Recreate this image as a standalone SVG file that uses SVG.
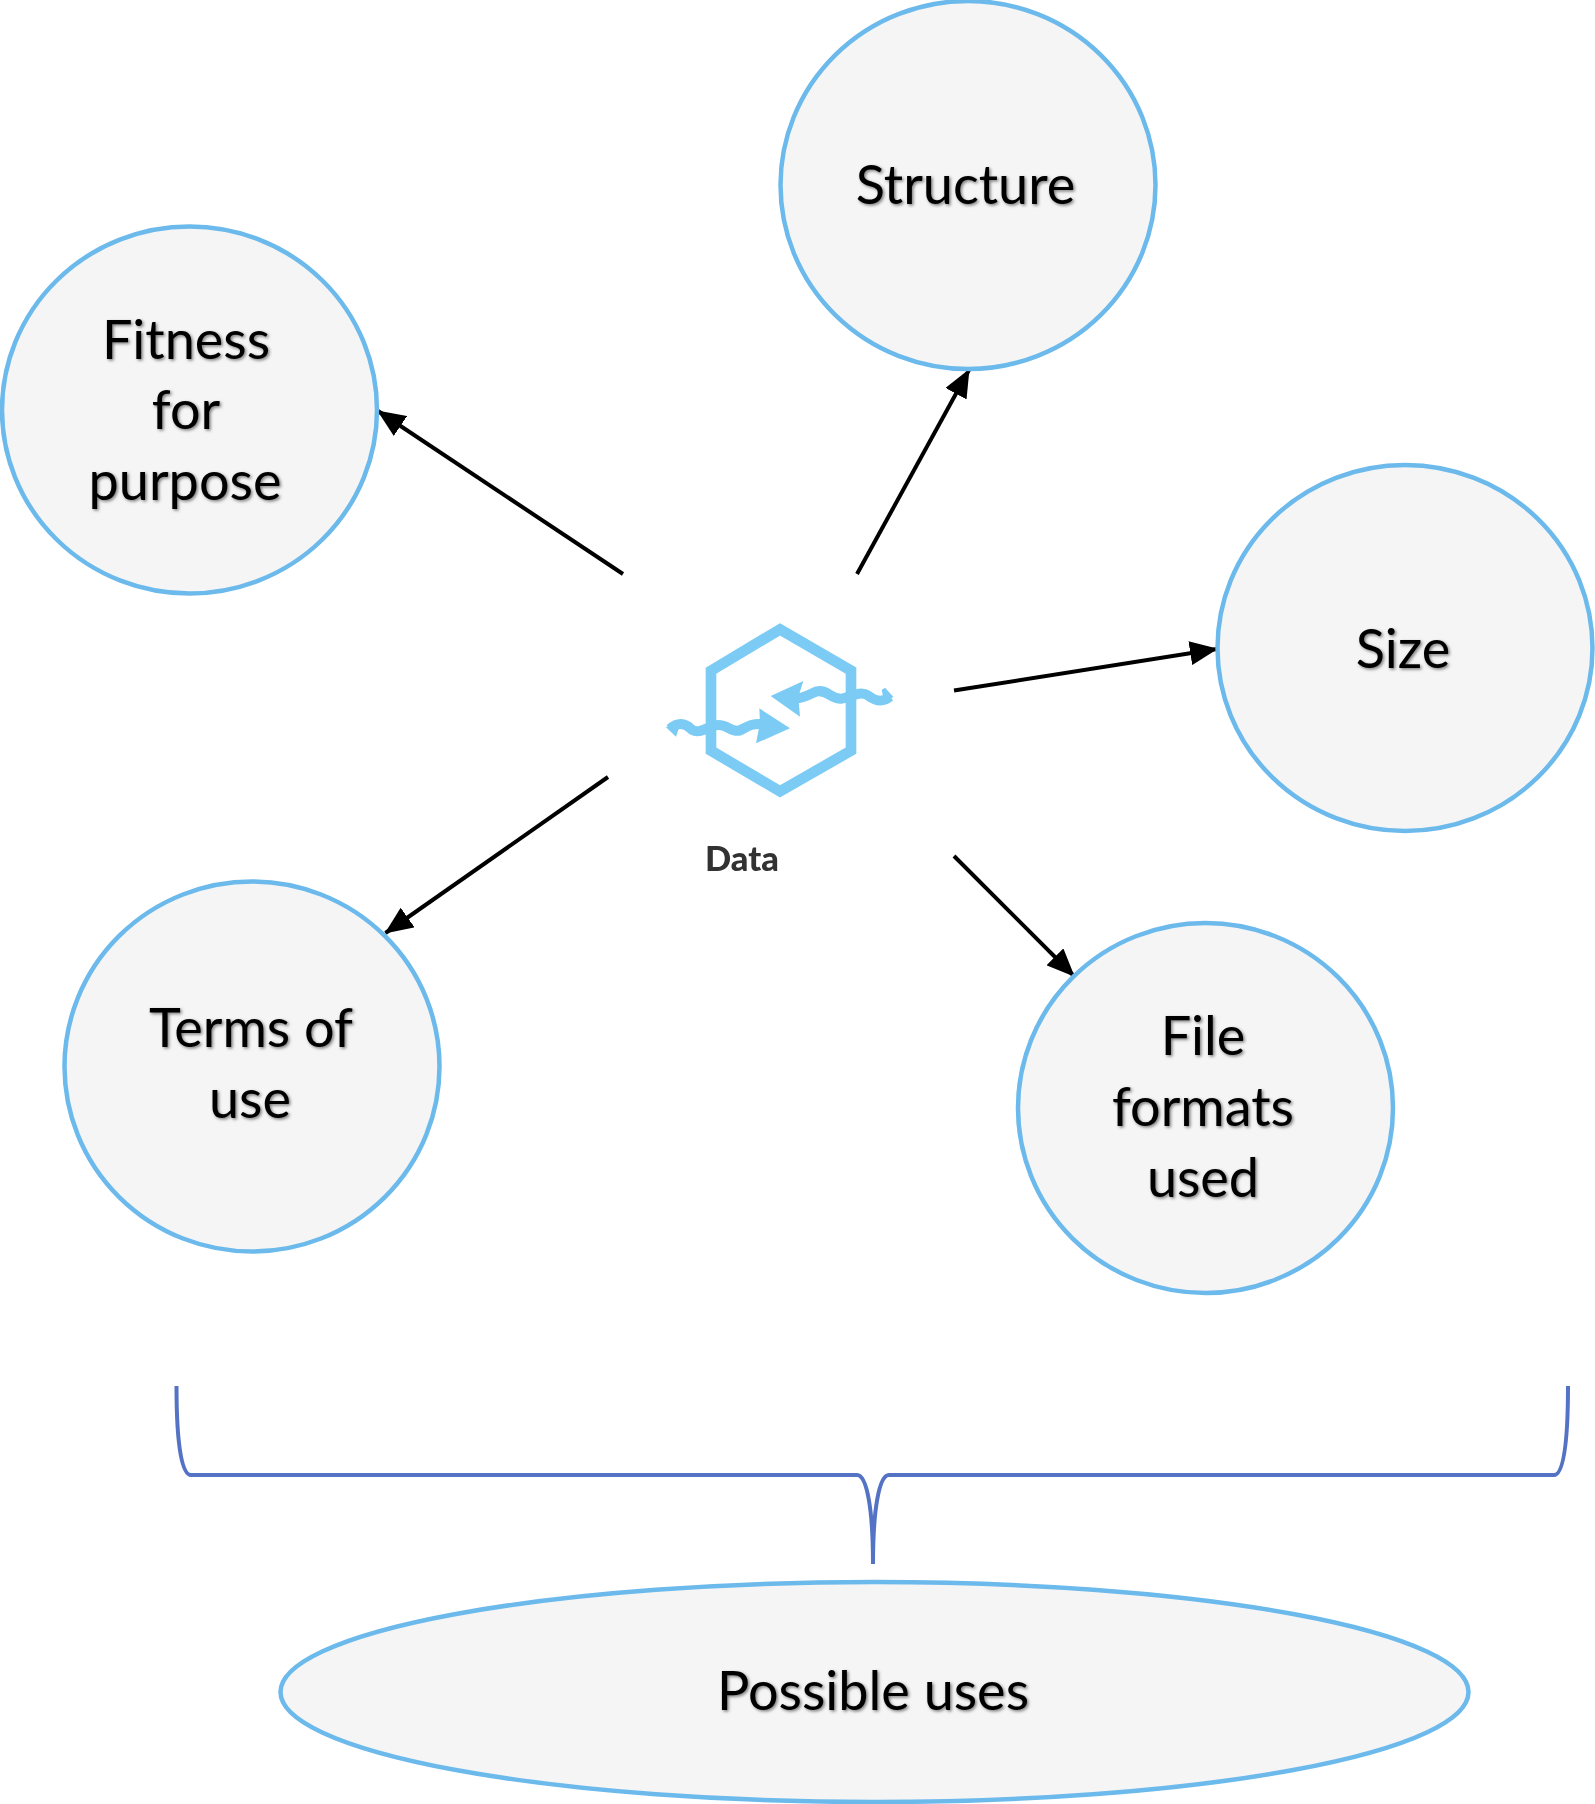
<svg xmlns="http://www.w3.org/2000/svg" width="1595" height="1804" viewBox="0 0 1595 1804">
<style>
.n{fill:#f5f5f5;stroke:#6cb9ec;stroke-width:4.500}
.t{font-family:"Lato","Carlito","Liberation Sans",sans-serif;font-size:54px;fill:#000;text-anchor:middle;filter:url(#sh)}
.c{stroke:#000;stroke-width:4;fill:none;marker-end:url(#ah)}
.i{fill:none;stroke:#7bcbf5}
</style>
<defs>
<marker id="ah" markerUnits="userSpaceOnUse" markerWidth="28" markerHeight="24" refX="27" refY="12" orient="auto"><path d="M0,0L28,12L0,24Z" fill="#000"/></marker>
<filter id="sh" x="-10%" y="-20%" width="120%" height="140%"><feDropShadow dx="1.500" dy="1.500" stdDeviation="1.800" flood-color="#000" flood-opacity=".5"/></filter>
<filter id="bl" x="-5%" y="-5%" width="110%" height="110%"><feGaussianBlur stdDeviation="0.700"/></filter>
</defs>
<rect width="1595" height="1804" fill="#fff"/>
<g id="connectors">
<path class="c" d="M623,574L378,411"/>
<path class="c" d="M857,574L969,370"/>
<path class="c" d="M954,690.500L1217,649"/>
<path class="c" d="M608,777L385.500,933"/>
<path class="c" d="M954,856L1074,976"/>
<path d="M176.500,1386C176.500,1440 181,1475 191,1475L857,1475C867,1475 873,1510 873,1564C873,1510 879,1475 889,1475L1554,1475C1564,1475 1568,1440 1568,1386" fill="none" stroke="#5573c4" stroke-width="4"/>
</g>
<g id="structure"><ellipse class="n" cx="968" cy="185" rx="187.500" ry="184"/><text class="t" x="965.500" y="204">Structure</text></g>
<g id="fitness"><ellipse class="n" cx="189.500" cy="410" rx="187.500" ry="183.500"/><text class="t" x="186" y="359">Fitness</text><text class="t" x="186" y="429">for</text><text class="t" x="185" y="500">purpose</text></g>
<g id="size"><ellipse class="n" cx="1405" cy="648" rx="187.500" ry="183"/><text class="t" x="1403" y="668">Size</text></g>
<g id="terms"><ellipse class="n" cx="252" cy="1066.500" rx="187.500" ry="185"/><text class="t" x="251" y="1047">Terms of</text><text class="t" x="250" y="1118">use</text></g>
<g id="file"><ellipse class="n" cx="1205.500" cy="1108" rx="187.500" ry="185"/><text class="t" x="1203" y="1055">File</text><text class="t" x="1203" y="1126">formats</text><text class="t" x="1203" y="1197">used</text></g>
<g id="uses"><ellipse class="n" cx="874.500" cy="1692" rx="594" ry="110"/><text class="t" x="873" y="1710">Possible uses</text></g>
<g id="data">
<g transform="translate(620,580) scale(.33333)" filter="url(#bl)">
<path class="i" stroke-width="32" d="M480,148L693,272V512L480,634L273,512V272Z"/>
<path class="i" stroke-width="30" d="M150,446C172,426 195,428 212,446C235,466 260,442 285,436C320,428 330,458 358,452C380,442 390,430 425,432"/>
<path fill="#7bcbf5" d="M418,385L510,445L408,490L420,430Z"/>
<path class="i" stroke-width="30" d="M810,350C785,370 765,362 745,347C720,330 690,352 665,356C630,358 625,328 590,334C570,342 555,352 530,356"/>
<path fill="#7bcbf5" d="M550,303L452,348L540,410L535,350Z"/>
<path fill="#7bcbf5" d="M785,330L795,323L820,350L795,372Z"/>
<path fill="#7bcbf5" d="M138,442L165,425L178,440L168,470Z"/>
</g>
<text x="742" y="871" font-family="Lato,'Liberation Sans',sans-serif" font-weight="900" font-size="34.500" fill="#333" text-anchor="middle" filter="url(#bl)">Data</text>
</g>
</svg>
